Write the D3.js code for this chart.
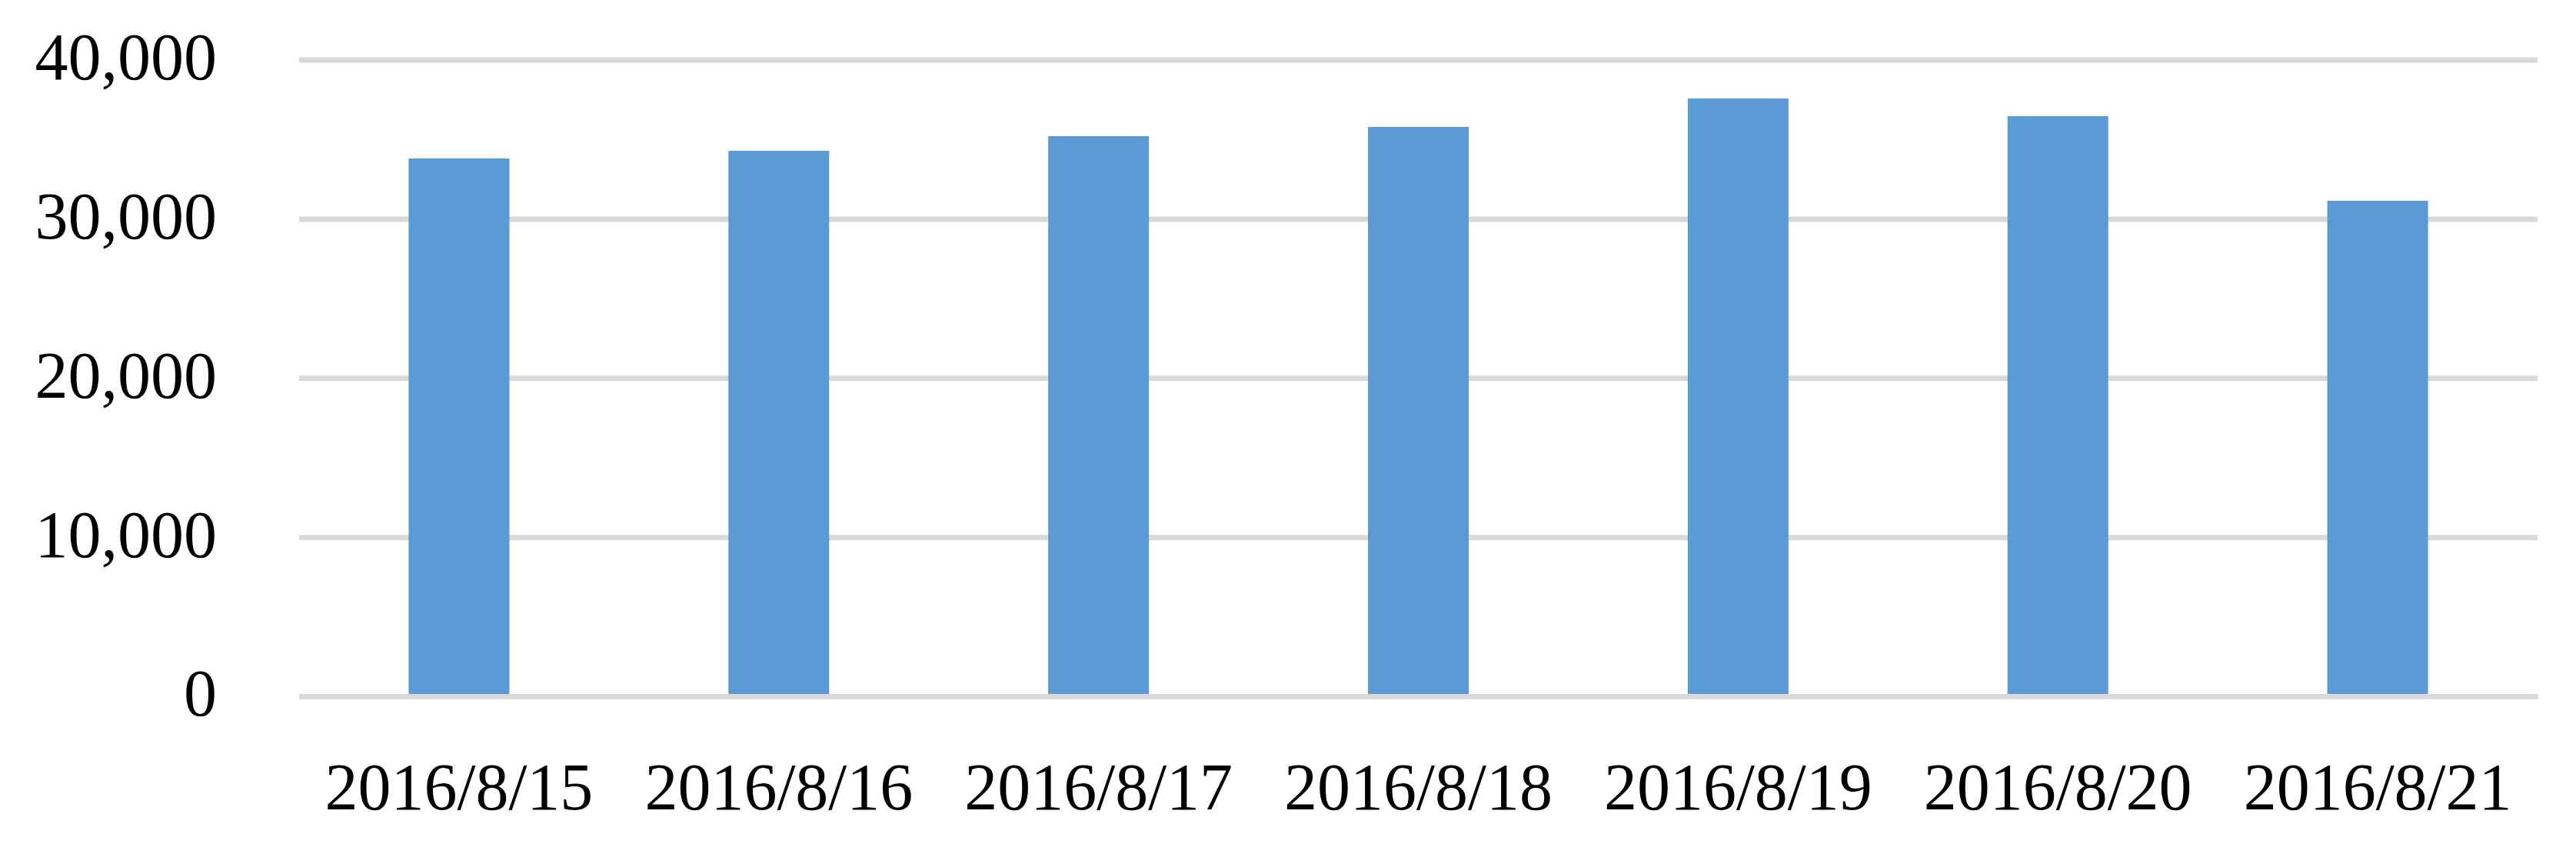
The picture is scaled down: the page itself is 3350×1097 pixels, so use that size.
<!DOCTYPE html>
<html>
<head>
<meta charset="utf-8">
<script src="https://cdn.jsdelivr.net/npm/d3@7"></script>
<style>
  body { margin: 0; background: #fff; }
  text { font-family: "Liberation Serif", "Times New Roman", serif; }
</style>
</head>
<body>
<div id="chart"></div>
<script>
const dates = ["2016/8/15", "2016/8/16", "2016/8/17", "2016/8/18", "2016/8/19", "2016/8/20", "2016/8/21"];
const counts = [33790, 34270, 35190, 35770, 37560, 36450, 31130];
const yTicks = [0, 10000, 20000, 30000, 40000];

const margin = {top: 77.5, right: 50, bottom: 192, left: 389},
      width = 3300 - margin.left,
      height = 905 - margin.top;

const svg = d3.select("#chart")
  .append("svg")
  .attr("width", 3350)
  .attr("height", 1097)
  .append("g")
  .attr("transform", `translate(${margin.left},${margin.top})`);

const x = d3.scaleBand()
  .domain(dates)
  .range([0, width])
  .paddingInner(0.685)
  .paddingOuter(0.685 / 2);

const y = d3.scaleLinear()
  .domain([0, 40000])
  .range([height, 0]);

// gridlines + y labels
const yAxis = svg.append("g")
  .call(d3.axisLeft(y)
    .tickValues(yTicks)
    .tickFormat(d3.format(","))
    .tickSize(-width)
    .tickPadding(107));

yAxis.select(".domain").remove();
yAxis.selectAll("line")
  .attr("stroke", "#d9d9d9")
  .attr("stroke-width", 7);
yAxis.selectAll("text")
  .attr("dy", "0.29em")
  .attr("fill", "#000")
  .style("font-size", "86px");

svg.selectAll(".bar")
  .data(counts)
  .enter()
  .append("rect")
  .attr("class", "bar")
  .attr("x", (d, i) => x(dates[i]))
  .attr("width", x.bandwidth())
  .attr("y", d => y(d))
  .attr("height", d => height - y(d))
  .attr("fill", "#5b9bd5");

// category axis, its line drawn over the bar bottoms
const xAxis = svg.append("g")
  .attr("transform", `translate(0,${height})`)
  .call(d3.axisBottom(x).tickSize(0).tickSizeOuter(0));

xAxis.select(".domain")
  .attr("stroke", "#d9d9d9")
  .attr("stroke-width", 7);
xAxis.selectAll("text")
  .attr("y", 147)
  .attr("dy", 0)
  .attr("fill", "#000")
  .style("font-size", "86px");
</script>
</body>
</html>
